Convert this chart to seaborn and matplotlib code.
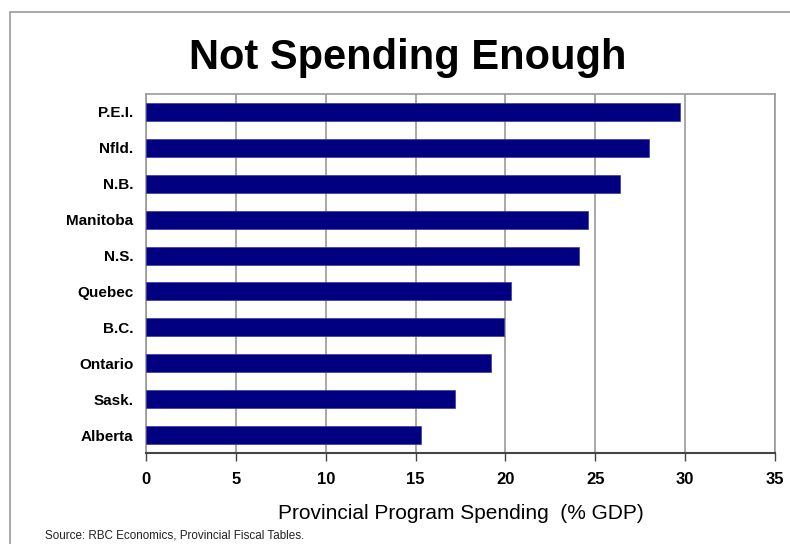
import matplotlib
matplotlib.use("Agg")
import matplotlib.pyplot as plt
import seaborn as sns
import pandas as pd
from matplotlib.patches import Rectangle

provinces = ["P.E.I.", "Nfld.", "N.B.", "Manitoba", "N.S.", "Quebec", "B.C.", "Ontario", "Sask.", "Alberta"]
spending = [29.7, 28.0, 26.4, 24.6, 24.1, 20.3, 19.9, 19.2, 17.2, 15.3]
x_ticks = [0, 5, 10, 15, 20, 25, 30, 35]

df = pd.DataFrame({"province": provinces, "spending": spending})

sns.set_theme(style="white")
plt.rcParams['font.family'] = ['Liberation Sans', 'DejaVu Sans']
plt.rcParams['text.color'] = 'black'
plt.rcParams['xtick.color'] = 'black'
plt.rcParams['ytick.color'] = 'black'
plt.rcParams['axes.labelcolor'] = 'black'

fig = plt.figure(figsize=(7.9, 5.44), dpi=100)
W, H = 790, 544
ax = fig.add_axes([146 / W, 1 - 453 / H, (775 - 146) / W, (453 - 94) / H])

sns.barplot(data=df, x="spending", y="province", orient="h", color="#000080",
            saturation=1, width=0.5, ax=ax, edgecolor="#3a3aa0", linewidth=0.5, zorder=3)

ax.set_xlim(0, 35)
ax.set_xticks(x_ticks)
ax.set_xticklabels([str(t) for t in x_ticks], fontsize=12, fontweight="bold")
for lab in ax.get_yticklabels():
    lab.set_fontsize(11)
    lab.set_fontweight("bold")
ax.set_ylabel("")
ax.set_xlabel("Provincial Program Spending  (% GDP)", fontsize=15, labelpad=12, color="black")

ax.grid(axis="x", color="#999999", linewidth=1.2, zorder=0)
ax.set_axisbelow(True)
for side in ["top", "right", "left"]:
    ax.spines[side].set_color("#999999")
    ax.spines[side].set_linewidth(1.2)
ax.spines["bottom"].set_color("#444444")
ax.spines["bottom"].set_linewidth(1.5)
ax.tick_params(axis="x", bottom=True, length=6, width=1, color="#444444", pad=8)
ax.tick_params(axis="y", left=False, pad=3)

fig.text(408 / W, 1 - 58 / H, "Not Spending Enough", ha="center", va="center",
         fontsize=30, fontweight="bold", color="black")
fig.text(45 / W, 1 - 535 / H, "Source: RBC Economics, Provincial Fiscal Tables.",
         ha="left", va="center", fontsize=8.4, color="#222222")

fig.patches.append(Rectangle((10 / W, -0.05), 1.0, 1 - 12 / H + 0.05, transform=fig.transFigure,
                             fill=False, edgecolor="#999999", linewidth=1.2))

fig.savefig("out.png", dpi=100)
